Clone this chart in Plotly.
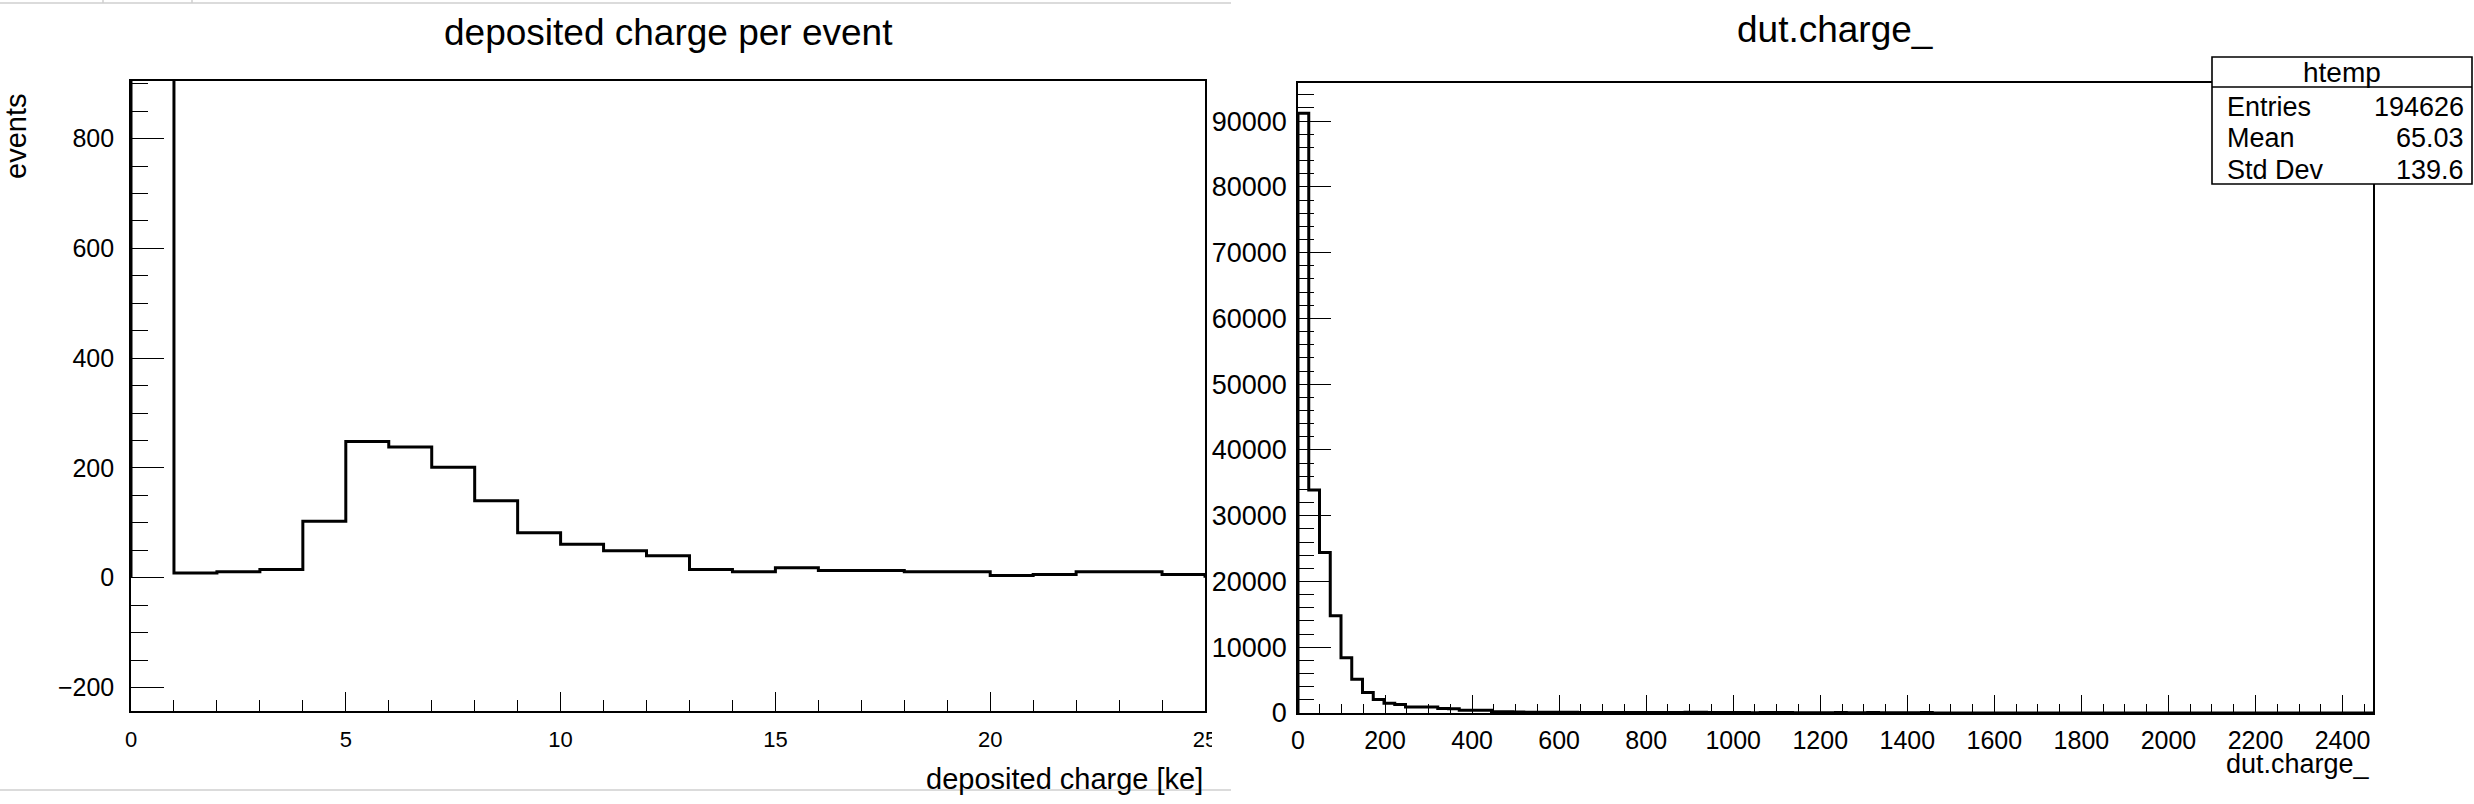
import plotly.graph_objects as go

W, H = 2474, 804

# ---------------- data ----------------
# left: deposited charge per event, 25 bins of 1 ke from 0 to 25
dep_lo = 0.0
dep_bin_width = 1.0
dep_counts = [960, 8.5, 11, 15, 103, 248, 238, 201, 140, 82, 61, 49, 40,
              15, 11, 18, 13, 13, 11, 11, 4, 6, 11, 11, 6]

# right: dut.charge_ (htemp), 100 bins from 0 to 2470
dut_lo = 0.0
dut_hi = 2470.0
dut_counts = [91200, 33900, 24400, 14800, 8400, 5130, 3130, 2050, 1490, 1280,
              920, 920, 900, 670, 660, 420, 410, 400, 190, 180,
              160, 120, 110, 105, 100, 100, 95, 95, 90, 90,
              90, 85, 85, 80, 80, 80, 100, 100, 95, 95,
              90, 90, 40, 90, 90, 85, 40, 35, 35, 30,
              90, 30, 30, 85, 25, 25, 20, 20, 80, 15,
              15, 12, 12, 10, 10, 10, 8, 8, 8, 8,
              6, 6, 6, 5, 5, 5, 5, 4, 4, 4,
              4, 3, 3, 3, 3, 3, 2, 2, 2, 2,
              2, 2, 1, 1, 1, 1, 1, 1, 1, 1]

stats_labels = ["Entries", "Mean", "Std Dev"]
stats_values = ["194626", "65.03", "139.6"]

left_title = "deposited charge per event"
left_xtitle = "deposited charge [ke]"
left_ytitle = "events"
right_title = "dut.charge_"
right_xtitle = "dut.charge_"
stats_name = "htemp"

FONT = "Liberation Sans, Arial, Helvetica, sans-serif"


def step_xy(lo, width, counts):
    n = len(counts)
    edges = [lo + i * width for i in range(n + 1)]
    xs = [edges[0]] + edges[:n] + [edges[n]]
    ys = [0] + list(counts) + [0]
    return xs, ys


def px(x):
    return x / W


def py(y):
    return 1 - y / H


fig = go.Figure()

lx, ly = step_xy(dep_lo, dep_bin_width, dep_counts)
fig.add_trace(go.Scatter(x=lx, y=ly, mode="lines", line=dict(shape="hv", color="black", width=3),
                         xaxis="x", yaxis="y", showlegend=False, hoverinfo="skip"))

rw = (dut_hi - dut_lo) / len(dut_counts)
rx, ry = step_xy(dut_lo, rw, dut_counts)
fig.add_trace(go.Scatter(x=rx, y=ry, mode="lines", line=dict(shape="hv", color="black", width=3),
                         xaxis="x2", yaxis="y2", showlegend=False, hoverinfo="skip"))

axis_common = dict(showline=True, mirror=True, linecolor="black", linewidth=1.6,
                   ticks="inside", tickcolor="black", tickwidth=1.3, automargin=False,
                   showgrid=False, zeroline=False, fixedrange=True)

fig.update_layout(
    width=W, height=H,
    margin=dict(l=0, r=0, t=0, b=0, pad=0, autoexpand=False),
    paper_bgcolor="white", plot_bgcolor="white",
    font=dict(family=FONT, color="black"),
    xaxis=dict(domain=[px(131), px(1205)], range=[0, 25], anchor="y",
               tick0=0, dtick=5, ticklen=19, ticklabelstandoff=8,
               tickfont=dict(size=22, family=FONT),
               minor=dict(dtick=1, ticks="inside", ticklen=11, tickcolor="black", tickwidth=1.3, showgrid=False),
               **axis_common),
    yaxis=dict(domain=[py(710.5), py(81)], range=[-242, 905], anchor="x",
               tick0=0, dtick=200, ticklen=33, ticklabelstandoff=10,
               tickfont=dict(size=25, family=FONT),
               minor=dict(dtick=50, ticks="inside", ticklen=17, tickcolor="black", tickwidth=1.3, showgrid=False),
               **axis_common),
    xaxis2=dict(domain=[px(1298), px(2373)], range=[0, 2470], anchor="y2",
                tick0=0, dtick=200, ticklen=18, ticklabelstandoff=4,
                tickfont=dict(size=25, family=FONT),
                minor=dict(dtick=50, ticks="inside", ticklen=9, tickcolor="black", tickwidth=1.3, showgrid=False),
                **axis_common),
    yaxis2=dict(domain=[py(713), py(83)], range=[0, 95800], anchor="x2",
                tick0=0, dtick=10000, ticklen=33, tickformat="d", ticklabelstandoff=4,
                tickfont=dict(size=27, family=FONT),
                minor=dict(dtick=2000, ticks="inside", ticklen=16, tickcolor="black", tickwidth=1.3, showgrid=False),
                **axis_common),
)

shapes = []
# white area covering the clipped "25" label (next canvas starts here)
shapes.append(dict(type="rect", xref="paper", yref="paper", x0=px(1212), x1=px(1250), y0=py(760), y1=py(714),
                   fillcolor="white", line=dict(width=0), layer="above"))
# stats box
shapes.append(dict(type="rect", xref="paper", yref="paper", x0=px(2212), x1=px(2472), y0=py(184), y1=py(57),
                   fillcolor="white", line=dict(color="black", width=1.6), layer="above"))
shapes.append(dict(type="line", xref="paper", yref="paper", x0=px(2212), x1=px(2472), y0=py(87), y1=py(87),
                   line=dict(color="black", width=1.6), layer="above"))
# window edge artefacts
for yy in (3, 790):
    shapes.append(dict(type="line", xref="paper", yref="paper", x0=0, x1=px(1231), y0=py(yy), y1=py(yy),
                       line=dict(color="#cfcfcf", width=1.5), layer="above"))
for xx in (103, 192):
    shapes.append(dict(type="line", xref="paper", yref="paper", x0=px(xx), x1=px(xx), y0=py(0), y1=py(3),
                       line=dict(color="#cfcfcf", width=1.5), layer="above"))
fig.update_layout(shapes=shapes)

ann = []
ann.append(dict(text=left_title, x=px(668), y=py(32), xref="paper", yref="paper", showarrow=False,
                xanchor="center", yanchor="middle", font=dict(size=37, family=FONT)))
ann.append(dict(text=right_title, x=px(1835), y=py(30), xref="paper", yref="paper", showarrow=False,
                xanchor="center", yanchor="middle", font=dict(size=37, family=FONT)))
ann.append(dict(text=left_xtitle, x=px(1205), y=py(779), xref="paper", yref="paper", showarrow=False,
                xanchor="right", yanchor="middle", font=dict(size=29, family=FONT)))
ann.append(dict(text=right_xtitle, x=px(2372), y=py(764), xref="paper", yref="paper", showarrow=False,
                xanchor="right", yanchor="middle", font=dict(size=27, family=FONT)))
ann.append(dict(text=left_ytitle, x=px(16), y=py(137), xref="paper", yref="paper", showarrow=False,
                xanchor="center", yanchor="middle", textangle=-90, font=dict(size=29, family=FONT)))
ann.append(dict(text=stats_name, x=px(2342), y=py(72), xref="paper", yref="paper", showarrow=False,
                xanchor="center", yanchor="middle", font=dict(size=28, family=FONT)))
for i, (lab, val) in enumerate(zip(stats_labels, stats_values)):
    yy = [107, 138, 170][i]
    ann.append(dict(text=lab, x=px(2225), y=py(yy), xref="paper", yref="paper", showarrow=False,
                    xanchor="left", yanchor="middle", font=dict(size=27, family=FONT)))
    ann.append(dict(text=val, x=px(2466), y=py(yy), xref="paper", yref="paper", showarrow=False,
                    xanchor="right", yanchor="middle", font=dict(size=27, family=FONT)))
fig.update_layout(annotations=ann)

fig.write_html("out.html",
               config={"displayModeBar": False},
               post_script="document.body.style.margin='0px';document.body.style.overflow='hidden';")
